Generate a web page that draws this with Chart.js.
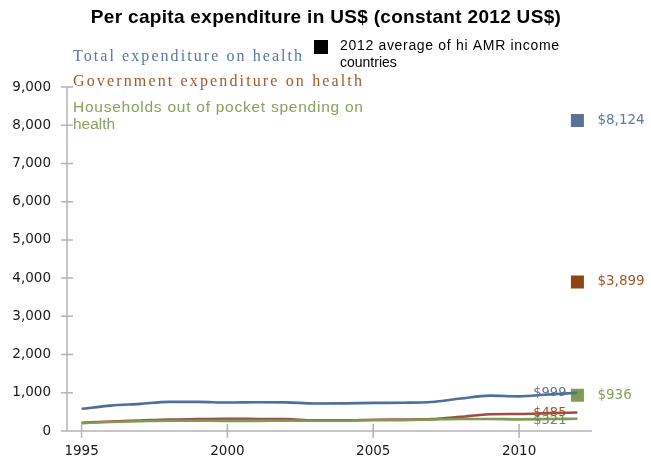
<!DOCTYPE html>
<html>
<head>
<meta charset="utf-8">
<script src="https://cdn.jsdelivr.net/npm/chart.js@4/dist/chart.umd.min.js"></script>
<style>
  html, body { margin: 0; padding: 0; background: #fff; }
  #wrap { width: 651px; height: 464px; position: relative; }
</style>
</head>
<body>
<div id="wrap"><canvas id="c" width="651" height="464"></canvas></div>
<script>
// ---- data ----
const years = ['1995','1996','1997','1998','1999','2000','2001','2002','2003','2004','2005','2006','2007','2008','2009','2010','2011','2012'];
const totalExp = [580, 665, 710, 762, 762, 745, 754, 750, 720, 722, 735, 740, 760, 850, 925, 905, 955, 999];
const govExp   = [215, 250, 275, 300, 310, 318, 315, 310, 278, 278, 295, 300, 310, 370, 440, 445, 467, 485];
const oopExp   = [205, 235, 255, 270, 268, 265, 265, 268, 268, 270, 280, 285, 300, 315, 315, 305, 312, 321];
const hiAmrAvg = [8124, 3899, 936]; // total, government, out-of-pocket (2012)
const yTickMax = 9000;
const yTickStep = 1000;
const labeledYears = ['1995','2000','2005','2010'];
const seriesNames = ['Total expenditure on health', 'Government expenditure on health', 'Households out of pocket spending on', 'health'];
const refLegend = ['2012 average of hi AMR income', 'countries'];
const chartTitle = 'Per capita expenditure in US$ (constant 2012 US$)';

const fmt = v => '$' + v.toLocaleString('en-US');
const lastIdx = years.length - 1;
const onlyLast = v => years.map((_, i) => i === lastIdx ? v : null);

const C = {
  totLine: '#4E6E9B', govLine: '#A04A4A', oopLine: '#7E9C52',
  totText: '#5A78A2', govText: '#A4582A', oopText: '#88A05E',
  totSq: '#5B7196', govSq: '#8B4512', oopSq: '#7F9A55',
  axis: '#B4B4B4'
};

function fitText(ctx, text, x, y, font, color, target, align) {
  ctx.save();
  ctx.font = font;
  ctx.fillStyle = color;
  ctx.textBaseline = 'middle';
  ctx.textAlign = align || 'left';
  if (target && 'letterSpacing' in ctx) {
    const w = ctx.measureText(text).width;
    const ls = (target - w) / Math.max(1, text.length - 1);
    ctx.letterSpacing = ls.toFixed(2) + 'px';
  }
  ctx.fillText(text, x, y);
  ctx.restore();
}

const overlay = {
  id: 'overlay',
  afterDraw(chart) {
    const ctx = chart.ctx;
    const xs = chart.scales.x, ys = chart.scales.y;
    const area = chart.chartArea;
    // axes
    ctx.save();
    ctx.strokeStyle = C.axis;
    ctx.lineWidth = 1.5;
    ctx.beginPath();
    ctx.moveTo(area.left, area.top);
    ctx.lineTo(area.left, area.bottom);
    ctx.moveTo(area.left - 6, area.bottom);
    ctx.lineTo(area.right, area.bottom);
    for (let v = yTickStep; v <= yTickMax; v += yTickStep) {
      const y = ys.getPixelForValue(v);
      ctx.moveTo(area.left - 6, y);
      ctx.lineTo(area.left + 6, y);
    }
    labeledYears.forEach(yr => {
      const x = xs.getPixelForValue(years.indexOf(yr));
      ctx.moveTo(x, area.bottom - 7);
      ctx.lineTo(x, area.bottom + 7);
    });
    ctx.stroke();
    ctx.restore();

    // end-of-line value labels
    const xe = xs.getPixelForValue(lastIdx);
    const lf = '13px "DejaVu Sans", sans-serif';
    fitText(ctx, fmt(totalExp[lastIdx]), xe - 11, ys.getPixelForValue(totalExp[lastIdx]), lf, '#5D7394', 0, 'right');
    fitText(ctx, fmt(oopExp[lastIdx]), xe - 11, ys.getPixelForValue(oopExp[lastIdx]) + 2, lf, '#6F8A5E', 0, 'right');
    fitText(ctx, fmt(govExp[lastIdx]), xe - 11, ys.getPixelForValue(govExp[lastIdx]), lf, '#A0521E', 0, 'right');

    // reference value labels
    const rf = '13.5px "DejaVu Sans", sans-serif';
    const rc = [C.totText, C.govText, C.oopText];
    hiAmrAvg.forEach((v, i) => {
      fitText(ctx, fmt(v), xe + 20, ys.getPixelForValue(v), rf, rc[i], 0, 'left');
    });

    // title
    fitText(ctx, chartTitle, 326, 18, 'bold 19px "Liberation Sans", Arial, sans-serif', '#000', 470, 'center');

    // legend
    fitText(ctx, seriesNames[0], 73, 57, '16px "Liberation Serif", serif', C.totText, 229);
    fitText(ctx, seriesNames[1], 73, 82, '16px "Liberation Serif", serif', C.govText, 289);
    fitText(ctx, seriesNames[2], 73, 108, '15.5px "Liberation Sans", Arial, sans-serif', C.oopText, 290);
    fitText(ctx, seriesNames[3], 73, 125, '15.5px "Liberation Sans", Arial, sans-serif', C.oopText, 0);

    ctx.save();
    ctx.fillStyle = '#000';
    ctx.fillRect(314, 40, 14, 14);
    ctx.restore();
    fitText(ctx, refLegend[0], 340, 46, '14px "Liberation Sans", Arial, sans-serif', '#000', 219);
    fitText(ctx, refLegend[1], 340, 63, '14px "Liberation Sans", Arial, sans-serif', '#000', 0);
  }
};

const lineDs = (data, color) => ({
  data, borderColor: color, backgroundColor: color, borderWidth: 2.6,
  pointRadius: 0, pointHoverRadius: 0, tension: 0.35, cubicInterpolationMode: 'monotone', fill: false
});
const sqDs = (data, color) => ({
  data, showLine: false, pointStyle: 'rect', pointRadius: 9.2, pointHoverRadius: 9.2,
  backgroundColor: color, borderColor: color, borderWidth: 0
});

new Chart(document.getElementById('c'), {
  type: 'line',
  data: {
    labels: years,
    datasets: [
      lineDs(oopExp, C.oopLine),
      lineDs(govExp, C.govLine),
      lineDs(totalExp, C.totLine),
      sqDs(onlyLast(hiAmrAvg[0]), C.totSq),
      sqDs(onlyLast(hiAmrAvg[1]), C.govSq),
      sqDs(onlyLast(hiAmrAvg[2]), C.oopSq)
    ]
  },
  options: {
    responsive: false,
    animation: false,
    events: [],
    layout: { padding: { top: 87, right: 59, left: 0, bottom: 0 } },
    plugins: { legend: { display: false }, title: { display: false }, tooltip: { enabled: false } },
    scales: {
      x: {
        type: 'category',
        offset: true,
        grid: { display: false, drawTicks: false },
        border: { display: false },
        afterFit: s => { s.height = 33; },
        ticks: {
          autoSkip: false, maxRotation: 0, padding: 12,
          color: '#1a1a1a', font: { family: '"DejaVu Sans", sans-serif', size: 13.5 },
          callback: (v, i) => labeledYears.includes(years[i]) ? years[i] : ''
        }
      },
      y: {
        min: 0, max: yTickMax,
        grid: { display: false, drawTicks: false },
        border: { display: false },
        afterFit: s => { s.width = 67; },
        ticks: {
          stepSize: yTickStep, padding: 16,
          color: '#1a1a1a', font: { family: '"DejaVu Sans", sans-serif', size: 13.5 },
          callback: v => v.toLocaleString('en-US')
        }
      }
    }
  },
  plugins: [overlay]
});
</script>
</body>
</html>
